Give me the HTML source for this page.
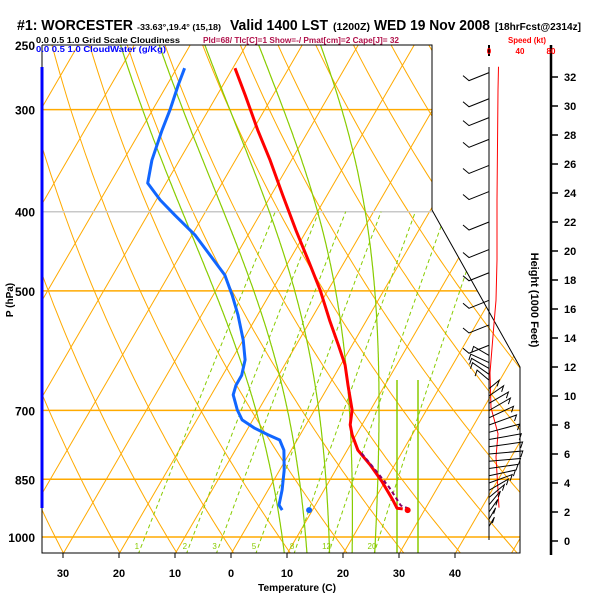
<!DOCTYPE html>
<html><head><meta charset="utf-8"><style>
html,body{margin:0;padding:0;background:#fff;}
svg{display:block;font-family:"Liberation Sans",sans-serif;}
</style></head><body>
<svg id="chart" width="600" height="600" viewBox="0 0 600 600">
<defs><clipPath id="frameClip"><polygon points="42,45 432,45 432,210 520,367 520,553 42,553"/></clipPath></defs>
<g id="grid" clip-path="url(#frameClip)"></g>
<g id="series"></g>
<g id="overlay"></g>
<g id="texts" font-weight="bold">
<text x="17" y="30" font-size="15" textLength="116" lengthAdjust="spacingAndGlyphs">#1: WORCESTER</text>
<text x="137" y="30" font-size="8" textLength="84" lengthAdjust="spacingAndGlyphs">-33.63°,19.4° (15,18)</text>
<text x="230" y="30" font-size="15" textLength="98" lengthAdjust="spacingAndGlyphs">Valid 1400 LST</text>
<text x="333" y="30" font-size="10" textLength="37" lengthAdjust="spacingAndGlyphs">(1200Z)</text>
<text x="374" y="30" font-size="15" textLength="116" lengthAdjust="spacingAndGlyphs">WED 19 Nov 2008</text>
<text x="495" y="30" font-size="10" textLength="86" lengthAdjust="spacingAndGlyphs">[18hrFcst@2314z]</text>
<text x="36" y="43" font-size="8" textLength="144" lengthAdjust="spacingAndGlyphs">0.0   0.5   1.0  Grid Scale Cloudiness</text>
<text x="203" y="43" font-size="8" fill="#b0104a" textLength="196" lengthAdjust="spacingAndGlyphs">Pld=68/ Tlc[C]=1 Show=-/ Pmat[cm]=2 Cape[J]= 32</text>
<text x="508" y="43" font-size="8" fill="#ff0000" textLength="38" lengthAdjust="spacingAndGlyphs">Speed (kt)</text>
<text x="36" y="52" font-size="8" fill="#0000ff" textLength="130" lengthAdjust="spacingAndGlyphs">0.0   0.5   1.0  CloudWater (g/Kg)</text>
<text x="489" y="54" font-size="8" fill="#ff0000" text-anchor="middle">0</text>
<text x="520" y="54" font-size="8" fill="#ff0000" text-anchor="middle">40</text>
<text x="551" y="54" font-size="8" fill="#ff0000" text-anchor="middle">80</text>
<text x="258" y="591" font-size="10" textLength="78" lengthAdjust="spacingAndGlyphs">Temperature (C)</text>
<text transform="translate(13,300) rotate(-90)" font-size="10" text-anchor="middle">P (hPa)</text>
<text transform="translate(531,300) rotate(90)" font-size="11" text-anchor="middle">Height (1000 Feet)</text>
</g>
</svg>
<script>
const TEMP_P = [924,922,901,856,816,783,750,729,699,652,616,582,543,499,461,421,382,346,318,288,267];
const TEMP_C = [26.0,24.9,23.3,19.5,15.6,11.9,9.3,7.9,6.7,3.4,0.8,-2.5,-6.6,-11.4,-16.3,-22.0,-27.9,-33.8,-39.1,-45.0,-49.6];
const DEW_P = [927,914,876,828,783,761,750,736,719,699,670,652,634,607,574,535,506,478,452,427,404,387,369,346,318,300,280,267];
const DEW_C = [4.6,3.5,2.5,0.8,-1.3,-3.1,-5.7,-8.8,-11.9,-13.8,-16.1,-16.6,-16.6,-17.6,-20.0,-23.5,-26.6,-30.0,-34.7,-39.5,-45.1,-49.3,-53.3,-54.9,-56.2,-56.9,-58.0,-58.6];
const PARCEL_P = [790,830,870,915,922];
const PARCEL_C = [12.9,17.3,21.4,25.3,26.8];
const SFC_P = 927;
const SFC_T = 27.0;
const SFC_TD = 9.4;
const PRESS_TICKS = [250,300,400,500,700,850,1000];
const TEMP_TICKS = [-30,-20,-10,0,10,20,30,40];
const TEMP_TICK_LABELS = ["30","20","10","0","10","20","30","40"];
const HEIGHT_TICKS = [0,2,4,6,8,10,12,14,16,18,20,22,24,26,28,30,32];
const MIX_W = [1,2,3,5,8,12,20];
const MOIST_T0 = [10,14,18,22,26];
const SPEED_H = [32.7,31.1,23.5,19.4,16.6,15.0,11.6,9.2,7.4,5.8,2.3];
const SPEED_KT = [12.3,11.6,10.3,10.3,9.0,6.5,1.3,2.6,11.6,9.0,12.9];
const BARB_UP_H = [32.3,30.5,29.2,27.7,25.9,24.1,22.0,20.1,18.5,16.6,14.9,13.5];
const BARB_LOW_H = [12.8,12.3,11.9,11.5,11.1,10.5,10.0,9.5,9.0,8.5,8.0,7.5,7.0,6.5,6.0,5.5,5.0,4.5,4.0,3.5,3.0,2.5,2.0,1.5,1.0];
const BARB_LOW_KT = [12,14,14,14,10,8,12,16,18,20,22,24,25,26,26,24,22,20,18,16,14,12,10,8,6];
const BARB_LOW_ANG = [150,155,150,145,140,40,35,30,30,25,20,15,10,8,5,5,8,12,20,30,40,50,55,60,60];

const NS = "http://www.w3.org/2000/svg";
function Y(p){ return 537 - 355*Math.log(1000/p); }
function X(T,p){ return 231 + 5.6*T + 0.58*(554 - Y(p)); }
function HY(h){ return 541 - 14.5*h; }
function SX(kt){ return 489 + kt*31/40; }
function mk(tag, attrs, parent){ const e=document.createElementNS(NS,tag); for(const k in attrs) e.setAttribute(k,attrs[k]); parent.appendChild(e); return e; }
function pathD(pts){ return pts.map((q,i)=>(i?"L":"M")+q[0].toFixed(1)+","+q[1].toFixed(1)).join(""); }

const grid=document.getElementById('grid'), series=document.getElementById('series'), ov=document.getElementById('overlay');
const ORANGE="#ffaa00", GREEN="#88cc00";

for(let T=-130;T<=50;T+=10){
  const l=mk('line',{x1:X(T,1100),y1:Y(1100),x2:X(T,240),y2:Y(240),stroke:ORANGE,'stroke-width':1},grid);
  
  
}
for(let th=240;th<=500;th+=10){
  const pts=[]; for(let p=1100;p>=240;p-=10){ const T=th*Math.pow(p/1000,0.2857)-273.15; pts.push([X(T,p),Y(p)]); }
  const e=mk('path',{d:pathD(pts),fill:'none',stroke:ORANGE,'stroke-width':1},grid);
  
  
}
PRESS_TICKS.forEach(p=>{
  if(p===250) return;
  const e=mk('line',{x1:42,x2:530,y1:Y(p),y2:Y(p),stroke:p===400?'#c8c8c8':ORANGE,'stroke-width':1.5},grid);
  
  
});
function tFromW(w,p){ const e=w*p/(622+w); const a=Math.log(e/6.112); return 243.5*a/(17.67-a); }
MIX_W.forEach(w=>{
  const pts=[]; for(let p=1050;p>=400;p-=10) pts.push([X(tFromW(w,p),p),Y(p)]);
  const e=mk('path',{d:pathD(pts),fill:'none',stroke:GREEN,'stroke-width':1,'stroke-dasharray':'4,3'},grid);
  
  
  const t=mk('text',{x:X(tFromW(w,1030),1030)-4,y:549,'font-size':8,fill:GREEN,'text-anchor':'middle'},grid);
  t.textContent=String(w);
  
  
});
function es(Tc){ return 6.112*Math.exp(17.67*Tc/(Tc+243.5)); }
MOIST_T0.forEach(t0=>{
  let T=t0+273.15; const pts=[];
  for(let p=1060;p>=240;p-=2){
    pts.push([X(T-273.15,p),Y(p)]);
    const e=es(T-273.15), rs=0.622*e/(p-e), L=2.5e6, Rd=287, cp=1005;
    const dTdp=(Rd*T+L*rs)/(p*(cp+L*L*rs*0.622/(Rd*T*T)));
    T-=2*dTdp;
  }
  const e=mk('path',{d:pathD(pts),fill:'none',stroke:GREEN,'stroke-width':1.2},grid);
  
  
});
[397,418].forEach(x=>{
  const e=mk('line',{x1:x,x2:x,y1:380,y2:553,stroke:GREEN,'stroke-width':1.5},grid);
  
  
});
[["0",438,148],["10",456,228],["20",484,284],["30",512,333]].forEach(a=>{
  const t=mk('text',{x:a[1],y:a[2],'font-size':12,fill:ORANGE,transform:`rotate(-55 ${a[1]} ${a[2]})`},grid);
  t.textContent=a[0];
  
  
});

const tp=mk('path',{d:pathD(TEMP_P.map((p,i)=>[X(TEMP_C[i],p),Y(p)])),fill:'none',stroke:'#ff0000','stroke-width':3,'stroke-linejoin':'round'},series);


const dp=mk('path',{d:pathD(DEW_P.map((p,i)=>[X(DEW_C[i],p),Y(p)])),fill:'none',stroke:'#1166ff','stroke-width':3,'stroke-linejoin':'round'},series);


const pp=mk('path',{d:pathD(PARCEL_P.map((p,i)=>[X(PARCEL_C[i],p),Y(p)])),fill:'none',stroke:'#880066','stroke-width':2,'stroke-dasharray':'4,3'},series);


const st=mk('circle',{cx:X(SFC_T,SFC_P),cy:Y(SFC_P),r:3,fill:'#ff0000'},series);


const sd=mk('circle',{cx:X(SFC_TD,SFC_P),cy:Y(SFC_P),r:3,fill:'#1166ff'},series);



const fr=mk('polyline',{points:"42,45 432,45 432,210 520,367 520,553 42,553 42,45",fill:'none',stroke:'#000','stroke-width':1},ov);


const bl=mk('line',{x1:42,x2:42,y1:67,y2:508,stroke:'#0000ff','stroke-width':3},ov);


PRESS_TICKS.forEach(p=>{
  const t=mk('text',{x:35,y:Y(p)+5,'font-size':12,'font-weight':'bold','text-anchor':'end'},ov);
  t.textContent=String(p);
  
  
});
TEMP_TICKS.forEach((T,i)=>{
  const x=231+5.6*T;
  const l=mk('line',{x1:x,x2:x,y1:553,y2:558,stroke:'#000'},ov);
  
  
  const t=mk('text',{x:x,y:577,'font-size':11,'font-weight':'bold','text-anchor':'middle'},ov);
  t.textContent=TEMP_TICK_LABELS[i];
  
  
});
const ha=mk('line',{x1:551,x2:551,y1:45,y2:555,stroke:'#000','stroke-width':2.5},ov);


HEIGHT_TICKS.forEach(h=>{
  const l=mk('line',{x1:551,x2:558,y1:HY(h),y2:HY(h),stroke:'#000','stroke-width':1.5},ov);
  
  
  const t=mk('text',{x:564,y:HY(h)+4,'font-size':11,'font-weight':'bold'},ov);
  t.textContent=String(h);
  
  
});
const sa=mk('line',{x1:489,x2:489,y1:67,y2:540,stroke:'#000','stroke-width':1},ov);


[489,551].forEach(x=>{
  const l=mk('line',{x1:x,x2:x,y1:45,y2:56,stroke:'#000','stroke-width':2},ov);
  
  
});
const sp=mk('path',{d:pathD(SPEED_H.map((h,i)=>[SX(SPEED_KT[i]),HY(h)])),fill:'none',stroke:'#ff0000','stroke-width':1},ov);


BARB_UP_H.forEach(h=>{
  const y=HY(h), x2=489-20, y2=y+8;
  const b=mk('path',{d:`M489,${y}L${x2},${y2}L${x2-6},${y2-5}`,fill:'none',stroke:'#000','stroke-width':1},ov);
  
  
});
BARB_LOW_H.forEach((h,i)=>{
  const y=HY(h), a=BARB_LOW_ANG[i]*Math.PI/180, L=BARB_LOW_KT[i]*1.15+4;
  const x2=489+L*Math.cos(a), y2=y-L*Math.sin(a);
  const b=mk('path',{d:`M489,${y.toFixed(1)}L${x2.toFixed(1)},${y2.toFixed(1)}L${(x2-2).toFixed(1)},${(y2+6).toFixed(1)}`,fill:'none',stroke:'#000','stroke-width':1},ov);
  
  
});
</script>
</body></html>
